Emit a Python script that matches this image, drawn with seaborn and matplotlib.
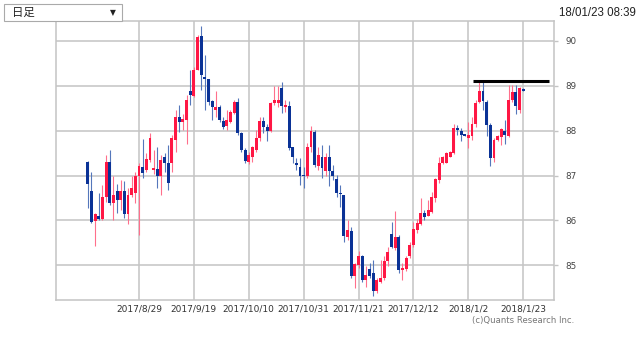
import matplotlib
matplotlib.use("Agg")
import matplotlib.pyplot as plt
import seaborn as sns
import numpy as np
import pandas as pd
from matplotlib.patches import Rectangle

# ---- data (daily candles, 2017-08-09 .. 2018-01-23, weekdays) ----
opens = [87.30, 86.66, 85.98, 86.09, 86.04, 86.53, 87.31, 86.39, 86.66, 86.46,
         86.66, 86.15, 86.56, 86.61, 86.98, 87.20, 87.13, 87.35, 87.13, 87.14,
         86.98, 87.42, 87.27, 87.27, 87.79, 88.30, 88.20, 88.24, 88.88, 88.77,
         89.36, 90.11, 89.20, 89.14, 88.67, 88.46, 88.53, 88.21, 88.10, 88.20,
         88.40, 88.64, 87.94, 87.57, 87.31, 87.42, 87.57, 87.83, 88.22, 88.09,
         88.00, 88.61, 88.62, 88.94, 88.53, 88.55, 87.63, 87.29, 87.20, 87.01,
         86.99, 87.64, 87.98, 87.21, 87.42, 87.11, 87.42, 87.10, 86.92, 86.61,
         86.56, 85.64, 85.76, 84.76, 85.02, 85.20, 84.68, 84.92, 84.84, 84.42,
         84.64, 84.72, 85.09, 85.70, 85.39, 85.64, 84.89, 84.92, 85.20, 85.46,
         85.79, 85.93, 86.16, 86.10, 86.18, 86.50, 86.90, 87.27, 87.29, 87.42,
         87.50, 88.05, 87.99, 87.91, 87.84, 87.87, 88.15, 88.64, 88.89, 88.64,
         88.13, 87.39, 87.79, 87.85, 88.00, 87.87, 88.68, 88.87, 88.47, 88.92]
highs = [87.32, 87.09, 86.16, 86.62, 86.78, 87.46, 87.56, 86.99, 86.81, 86.90,
         86.87, 86.72, 86.98, 87.09, 87.27, 87.81, 87.50, 87.94, 87.57, 87.64,
         87.46, 87.51, 87.68, 87.90, 88.46, 88.56, 88.37, 88.79, 89.35, 89.42,
         90.13, 90.33, 89.68, 89.16, 88.68, 88.88, 88.57, 88.31, 88.46, 88.46,
         88.68, 88.73, 87.98, 87.61, 87.53, 87.66, 88.01, 88.31, 88.30, 88.15,
         88.64, 88.99, 88.99, 89.08, 88.68, 88.67, 87.64, 87.39, 87.39, 87.20,
         87.72, 88.10, 88.01, 87.64, 87.68, 87.50, 87.68, 87.24, 87.01, 86.79,
         86.57, 86.01, 85.85, 85.05, 85.31, 85.24, 84.98, 85.05, 85.13, 84.72,
         85.13, 85.20, 85.42, 85.96, 86.20, 85.68, 85.05, 85.20, 85.53, 85.96,
         86.03, 86.50, 86.24, 86.46, 86.64, 86.94, 87.42, 87.44, 87.53, 87.55,
         88.15, 88.13, 88.05, 87.91, 88.20, 88.30, 88.68, 89.09, 89.09, 88.68,
         88.16, 87.83, 87.90, 88.05, 88.24, 89.01, 89.01, 89.01, 88.96, 88.94]
lows = [86.27, 85.94, 85.44, 86.01, 86.01, 86.42, 86.35, 86.01, 86.16, 86.24,
        86.05, 85.93, 86.53, 86.39, 85.68, 86.94, 87.09, 87.31, 87.03, 86.72,
        86.57, 87.09, 86.68, 87.09, 87.53, 87.98, 88.01, 87.70, 88.57, 88.74,
        89.35, 88.90, 88.46, 88.57, 88.24, 88.31, 88.20, 88.03, 88.01, 88.16,
        88.38, 87.90, 87.53, 87.27, 87.26, 87.31, 87.53, 87.76, 87.94, 87.78,
        87.98, 88.57, 88.53, 88.39, 88.42, 87.57, 87.29, 87.13, 86.79, 86.72,
        86.94, 87.53, 87.20, 87.13, 86.94, 86.98, 86.76, 86.90, 86.53, 86.31,
        85.51, 85.57, 84.72, 84.50, 84.94, 84.62, 84.53, 84.72, 84.33, 84.39,
        84.61, 84.67, 84.98, 85.39, 85.35, 84.83, 84.68, 84.87, 85.16, 85.42,
        85.72, 85.90, 86.01, 86.09, 86.16, 86.42, 86.83, 87.26, 87.27, 87.42,
        87.48, 87.90, 87.78, 87.88, 87.61, 87.80, 88.09, 88.61, 88.46, 87.87,
        87.22, 87.31, 87.76, 87.68, 87.70, 87.85, 88.64, 88.37, 88.39, 88.88]
closes = [86.81, 85.96, 86.14, 86.04, 86.53, 87.31, 86.39, 86.57, 86.46, 86.66,
          86.15, 86.56, 86.72, 86.98, 87.21, 87.05, 87.36, 87.83, 87.16, 86.99,
          87.35, 87.27, 86.83, 87.83, 88.30, 88.20, 88.25, 88.68, 88.79, 89.36,
          90.09, 89.24, 89.14, 88.64, 88.52, 88.53, 88.24, 88.07, 88.24, 88.41,
          88.64, 87.94, 87.56, 87.33, 87.46, 87.64, 87.83, 88.22, 88.07, 88.00,
          88.62, 88.68, 88.68, 88.55, 88.57, 87.61, 87.42, 87.23, 86.99, 86.98,
          87.63, 88.00, 87.24, 87.46, 87.16, 87.42, 87.11, 86.98, 86.61, 86.58,
          85.66, 85.78, 84.76, 85.04, 85.20, 84.68, 84.79, 84.76, 84.42, 84.67,
          84.72, 85.09, 85.29, 85.42, 85.64, 84.90, 84.94, 85.16, 85.46, 85.81,
          85.94, 86.16, 86.07, 86.24, 86.52, 86.92, 87.27, 87.42, 87.50, 87.53,
          88.05, 88.01, 87.90, 87.89, 87.90, 88.15, 88.61, 88.89, 88.67, 88.13,
          87.39, 87.79, 87.87, 88.03, 87.90, 88.68, 88.87, 88.55, 88.94, 88.89]
# colour as drawn in the reference (some near-doji candles)
down_override = [3, 59, 69, 92, 101, 102, 103, 119]

xtick_idx = [14, 29, 44, 59, 74, 89, 104, 119]
xtick_labels = ["2017/8/29", "2017/9/19", "2017/10/10", "2017/10/31",
                "2017/11/21", "2017/12/12", "2018/1/2", "2018/1/23"]
yticks = [85, 86, 87, 88, 89, 90]

resistance_level = 89.10
resistance_from, resistance_to = 105.3, 126.1

df = pd.DataFrame({"open": opens, "high": highs, "low": lows, "close": closes})
df["idx"] = np.arange(len(df))
df["dir"] = ["down" if (i in down_override or c < o) else "up"
             for i, (o, c) in enumerate(zip(opens, closes))]

# ---- style ----
sns.set_style("white")
plt.rcParams["font.family"] = ["DejaVu Sans"]

RED, BLUE = "#ff1744", "#0a3296"
RED_W, BLUE_W = "#ff6f8c", "#5577bb"
GRID = "#c4c4c4"

fig = plt.figure(figsize=(6.4, 3.37), dpi=100)
ax = fig.add_axes([56 / 640, 1 - 300 / 337, (554 - 56) / 640, (300 - 21) / 337])

# grid
for xi in xtick_idx:
    ax.axvline(xi, color=GRID, lw=1.1, zorder=0)
for yv in yticks:
    ax.axhline(yv, color=GRID, lw=1.1, zorder=0)

# wicks
for d, col in (("up", RED_W), ("down", BLUE_W)):
    sub = df[df["dir"] == d]
    ax.vlines(sub["idx"], sub["low"], sub["high"], color=col, lw=0.8, zorder=2)

# bodies
for d, col in (("up", RED), ("down", BLUE)):
    sub = df[df["dir"] == d]
    bottom = np.minimum(sub["open"], sub["close"])
    height = np.maximum(np.abs(sub["close"] - sub["open"]), 0.025)
    ax.bar(sub["idx"], height, bottom=bottom, width=0.8, color=col,
           edgecolor="none", zorder=3)

# resistance line
ax.hlines(resistance_level, resistance_from, resistance_to, color="black", lw=2.2, zorder=4)

ax.set_xlim(-8.68, 127.4)
ax.set_ylim(84.23, 90.44)

ax.set_xticks(xtick_idx)
ax.set_xticklabels(xtick_labels, fontsize=6.5, color="#333333")
ax.tick_params(axis="x", length=0, pad=3)

ax.yaxis.tick_right()
ax.set_yticks(yticks)
ax.set_yticklabels([str(v) for v in yticks], fontsize=6.3, color="#444444")
ax.tick_params(axis="y", length=3, width=1.0, color=GRID, pad=5)

for s in ax.spines.values():
    s.set_color(GRID)
    s.set_linewidth(1.1)

# header widgets
box = Rectangle((4 / 640, 1 - 21 / 337), 118 / 640, 17 / 337, transform=fig.transFigure,
                facecolor="white", edgecolor="#aaaaaa", lw=0.8)
fig.patches.append(box)
fig.text(12 / 640, 1 - 12.5 / 337, "日足", fontsize=8.2, va="center", ha="left",
         family=["Noto Sans CJK JP", "DejaVu Sans"], color="#222222")
fig.text(113 / 640, 1 - 12.5 / 337, "▼", fontsize=5.5, va="center", ha="center",
         family=["DejaVu Sans"], color="#222222")
fig.text(636 / 640, 1 - 13 / 337, "18/01/23 08:39", fontsize=8.3, va="center", ha="right",
         family=["Liberation Sans", "DejaVu Sans"], color="#222222")
fig.text(472 / 640, 1 - 321 / 337, "(c)Quants Research Inc.", fontsize=6.1, va="center",
         ha="left", color="#777777")

fig.savefig("out.png", dpi=100)
